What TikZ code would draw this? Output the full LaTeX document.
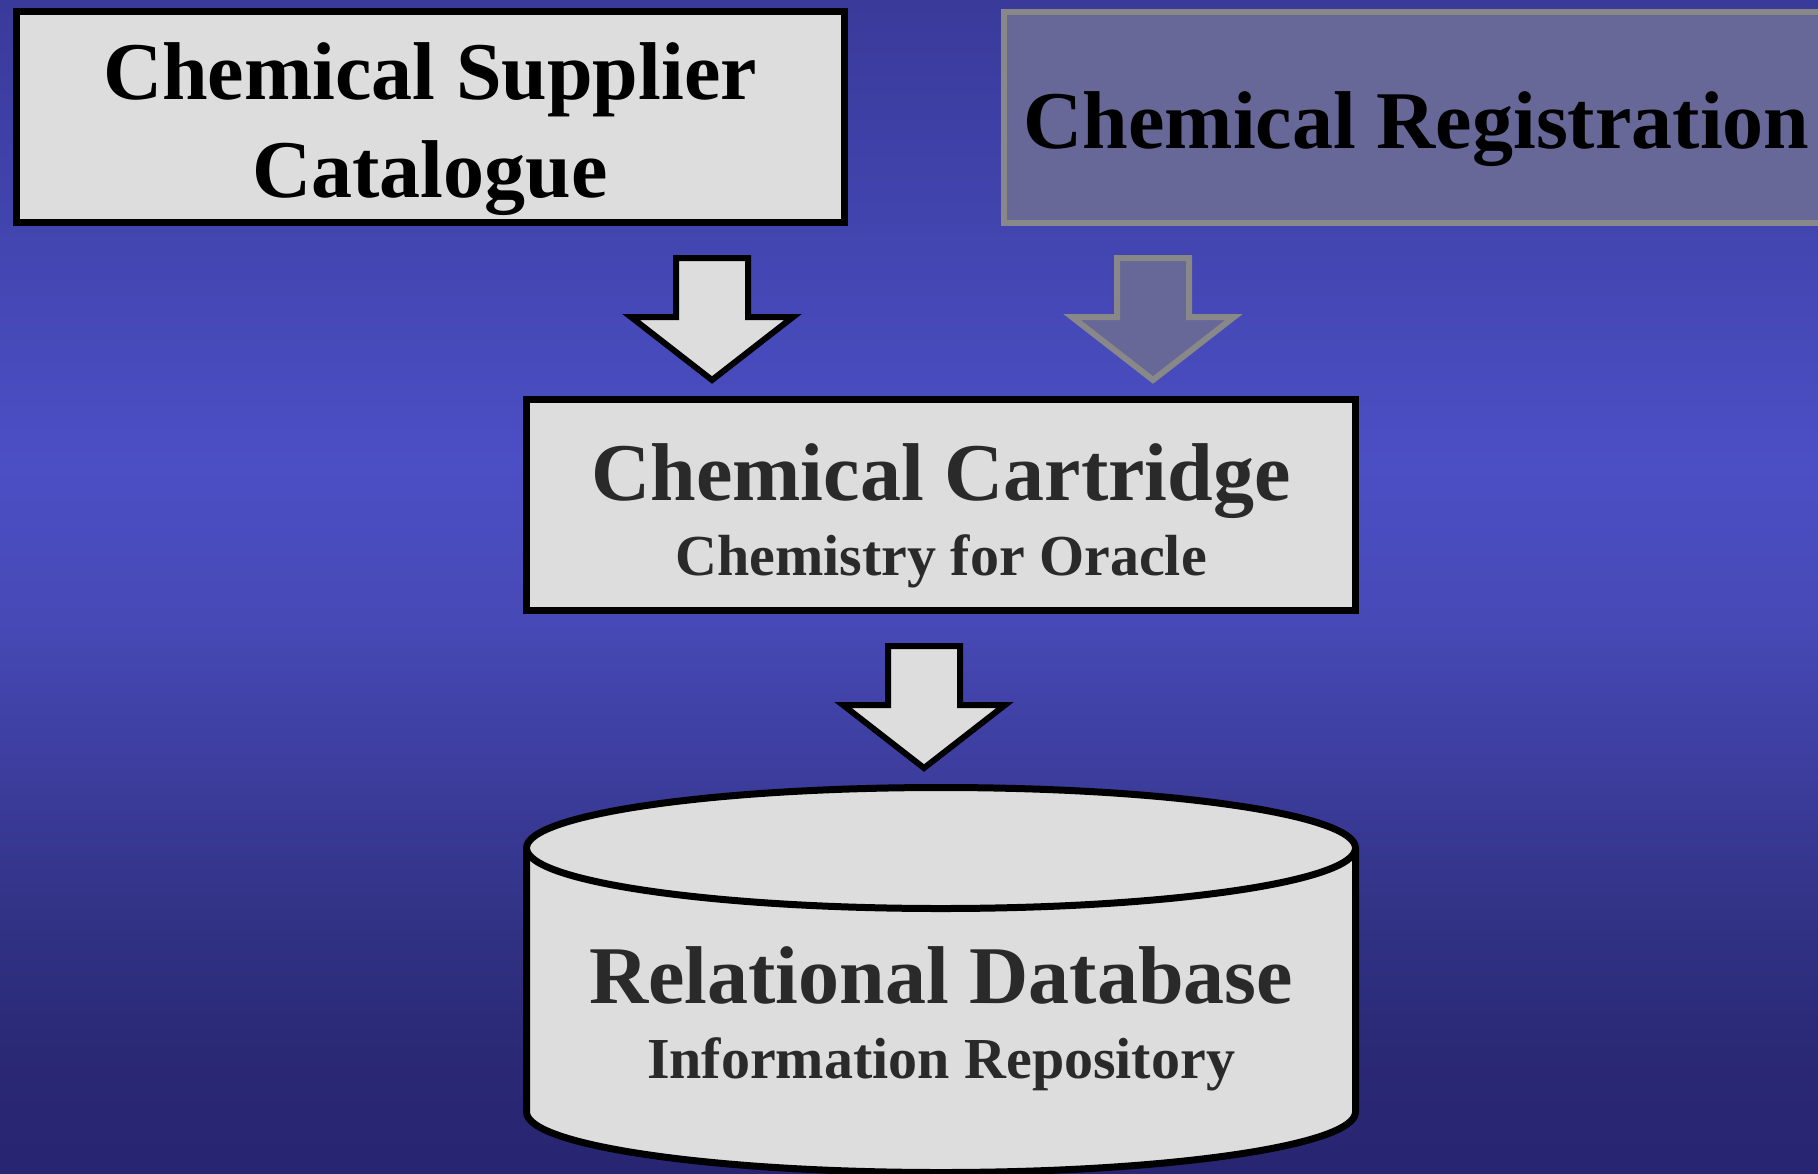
\documentclass[tikz,border=0pt]{standalone}
\usepackage{fontspec}
\setmainfont{Liberation Serif}
\usetikzlibrary{calc}
\definecolor{boxfill}{HTML}{DDDDDD}
\definecolor{regfill}{HTML}{676798}
\definecolor{reggray}{HTML}{888888}
\definecolor{darktext}{HTML}{2A2A2A}
\definecolor{bgA}{HTML}{3A3A9A}
\definecolor{bgB}{HTML}{4B4FC4}
\definecolor{bgC}{HTML}{4749B6}
\definecolor{bgD}{HTML}{333388}
\definecolor{bgE}{HTML}{2A2976}
\definecolor{bgF}{HTML}{282572}
\begin{document}
\begin{tikzpicture}[x=0.5pt,y=-0.5pt,
  bigtext/.style={font=\bfseries\fontsize{41}{41}\selectfont, anchor=base, inner sep=0pt},
  smalltext/.style={font=\bfseries\fontsize{29}{29}\selectfont, anchor=base, inner sep=0pt},
  lightbox/.style={draw=black, fill=boxfill, line width=3.5pt, minimum width=413.75pt, minimum height=105.5pt, inner sep=0pt},
  regbox/.style={draw=reggray, fill=regfill, line width=3pt, minimum width=414pt, minimum height=105.5pt, inner sep=0pt},
  lightarrow/.style={draw=black, fill=boxfill, line width=3pt, miter limit=10},
  grayarrow/.style={draw=reggray, fill=regfill, line width=3pt, miter limit=10},
  cyl/.style={draw=black, fill=boxfill, line width=3.5pt},
  pics/blockarrow/.style={code={
    \draw[pic actions] (-36,0) -- (36,0) -- (36,59) -- (81,59) -- (0,122) -- (-81,59) -- (-36,59) -- cycle;}}
]
\useasboundingbox (0,0) rectangle (1818,1173);
\begin{scope}
\clip (0,0) rectangle (1818,1173);
% background gradient
\fill[top color=bgA, bottom color=bgB] (-2,-2) rectangle (1820,461);
\fill[top color=bgB, bottom color=bgC] (-2,460) rectangle (1820,621);
\fill[top color=bgC, bottom color=bgD] (-2,620) rectangle (1820,901);
\fill[top color=bgD, bottom color=bgE] (-2,900) rectangle (1820,1051);
\fill[top color=bgE, bottom color=bgF] (-2,1050) rectangle (1820,1176);

% boxes
\node[lightbox] (supbox) at (430.25,117) {};
\node[bigtext] (sup1) at (430,99) {Chemical Supplier};
\node[bigtext] (sup2) at (430,197) {Catalogue};

\node[regbox] (regbox) at (1417.5,117) {};
\node[bigtext] (reg1) at (1416.5,148) {Chemical Registration};

\node[lightbox, minimum width=414.5pt] (cartbox) at (941,505) {};
\node[bigtext, text=darktext] (cart1) at (941,500) {Chemical Cartridge};
\node[smalltext, text=darktext] (cart2) at (941,575) {Chemistry for Oracle};

% arrows
\coordinate (a1) at (712,258);
\coordinate (a2) at (1153,258);
\coordinate (a3) at (924,646);
\pic[lightarrow] at (a1) {blockarrow};
\pic[grayarrow] at (a2) {blockarrow};
\pic[lightarrow] at (a3) {blockarrow};

% cylinder
\coordinate (dbtop) at (941,848);
\coordinate (dbbottom) at (941,1112);
\draw[cyl] ($(dbtop)+(-414.5,0)$) -- ($(dbbottom)+(-414.5,0)$)
  arc[start angle=180, end angle=0, x radius=414.5, y radius=60.5]
  -- ($(dbtop)+(414.5,0)$);
\draw[cyl] (dbtop) ellipse[x radius=414.5, y radius=60.5];
\node[bigtext, text=darktext] (db1) at (941,1003) {Relational Database};
\node[smalltext, text=darktext] (db2) at (941,1078) {Information Repository};
\end{scope}
\end{tikzpicture}
\end{document}
